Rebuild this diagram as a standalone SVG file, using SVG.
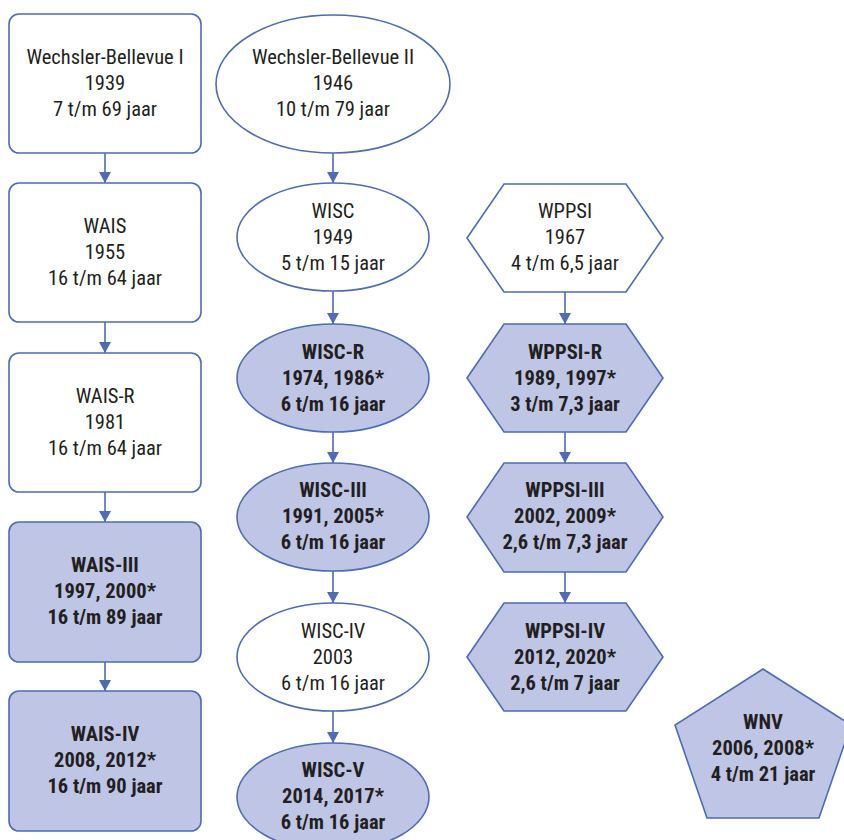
<svg xmlns="http://www.w3.org/2000/svg" width="844" height="840" viewBox="0 0 844 840">
<defs>
<style>
.s{stroke:#4d6bb7;stroke-width:1.6;fill:#fff}
.f{fill:#bfc5e4}
text{font-family:"Liberation Sans Narrow","Roboto Condensed","DejaVu Sans Condensed",Roboto,sans-serif;font-size:20.5px;fill:#231f20;text-anchor:middle}
.b text{font-weight:bold}
.c line{stroke:#4d6bb7;stroke-width:1.6}
</style>
<marker id="ah" viewBox="0 0 11 12" refX="11" refY="6" markerWidth="11" markerHeight="12" markerUnits="userSpaceOnUse" orient="auto">
<path d="M0,0 L11,6 L0,12 Z" fill="#4d6bb7"/>
</marker>
</defs>
<rect width="844" height="840" fill="#fff"/>
<g class="c">
<line x1="105" y1="153" x2="105" y2="183" marker-end="url(#ah)"/>
<line x1="105" y1="322" x2="105" y2="353" marker-end="url(#ah)"/>
<line x1="105" y1="492" x2="105" y2="522" marker-end="url(#ah)"/>
<line x1="105" y1="662" x2="105" y2="691" marker-end="url(#ah)"/>
<line x1="333" y1="153" x2="333" y2="183" marker-end="url(#ah)"/>
<line x1="333" y1="291" x2="333" y2="324" marker-end="url(#ah)"/>
<line x1="333" y1="432" x2="333" y2="463" marker-end="url(#ah)"/>
<line x1="333" y1="571" x2="333" y2="603" marker-end="url(#ah)"/>
<line x1="333" y1="711" x2="333" y2="743" marker-end="url(#ah)"/>
<line x1="565" y1="292" x2="565" y2="324" marker-end="url(#ah)"/>
<line x1="565" y1="432" x2="565" y2="463" marker-end="url(#ah)"/>
<line x1="565" y1="572" x2="565" y2="603" marker-end="url(#ah)"/>
</g>
<g id="wb1"><rect class="s" x="9" y="14" width="192" height="139" rx="10"/>
<text x="105" y="64">Wechsler-Bellevue I</text><text x="105" y="90">1939</text><text x="105" y="116">7 t/m 69 jaar</text></g>
<g id="wais"><rect class="s" x="9" y="183" width="192" height="139" rx="10"/>
<text x="105" y="233">WAIS</text><text x="105" y="259">1955</text><text x="105" y="285">16 t/m 64 jaar</text></g>
<g id="waisr"><rect class="s" x="9" y="353" width="192" height="139" rx="10"/>
<text x="105" y="403">WAIS-R</text><text x="105" y="429">1981</text><text x="105" y="455">16 t/m 64 jaar</text></g>
<g id="wais3" class="b"><rect class="s f" x="9" y="522" width="192" height="140" rx="10"/>
<text x="105" y="572">WAIS-III</text><text x="105" y="598">1997, 2000*</text><text x="105" y="624">16 t/m 89 jaar</text></g>
<g id="wais4" class="b"><rect class="s f" x="9" y="691" width="192" height="140" rx="10"/>
<text x="105" y="741">WAIS-IV</text><text x="105" y="767">2008, 2012*</text><text x="105" y="793">16 t/m 90 jaar</text></g>
<g id="wb2"><ellipse class="s" cx="333" cy="84" rx="117" ry="69"/>
<text x="333" y="64">Wechsler-Bellevue II</text><text x="333" y="90">1946</text><text x="333" y="116">10 t/m 79 jaar</text></g>
<g id="wisc"><ellipse class="s" cx="333" cy="237" rx="96" ry="54"/>
<text x="333" y="218">WISC</text><text x="333" y="244">1949</text><text x="333" y="270">5 t/m 15 jaar</text></g>
<g id="wiscr" class="b"><ellipse class="s f" cx="333" cy="378" rx="96" ry="54"/>
<text x="333" y="359">WISC-R</text><text x="333" y="385">1974, 1986*</text><text x="333" y="411">6 t/m 16 jaar</text></g>
<g id="wisc3" class="b"><ellipse class="s f" cx="333" cy="517" rx="96" ry="54"/>
<text x="333" y="497">WISC-III</text><text x="333" y="523">1991, 2005*</text><text x="333" y="549">6 t/m 16 jaar</text></g>
<g id="wisc4"><ellipse class="s" cx="333" cy="657" rx="96" ry="54"/>
<text x="333" y="638">WISC-IV</text><text x="333" y="664">2003</text><text x="333" y="690">6 t/m 16 jaar</text></g>
<g id="wisc5" class="b"><ellipse class="s f" cx="333" cy="797" rx="96" ry="54"/>
<text x="333" y="777">WISC-V</text><text x="333" y="803">2014, 2017*</text><text x="333" y="829">6 t/m 16 jaar</text></g>
<g id="wppsi"><polygon class="s" points="467,238 504,184 626,184 663,238 626,292 504,292"/>
<text x="565" y="218">WPPSI</text><text x="565" y="244">1967</text><text x="565" y="270">4 t/m 6,5 jaar</text></g>
<g id="wppsir" class="b"><polygon class="s f" points="467,378 504,324 626,324 663,378 626,432 504,432"/>
<text x="565" y="359">WPPSI-R</text><text x="565" y="385">1989, 1997*</text><text x="565" y="411">3 t/m 7,3 jaar</text></g>
<g id="wppsi3" class="b"><polygon class="s f" points="467,517 504,463 626,463 663,517 626,572 504,572"/>
<text x="565" y="497">WPPSI-III</text><text x="565" y="523">2002, 2009*</text><text x="565" y="549">2,6 t/m 7,3 jaar</text></g>
<g id="wppsi4" class="b"><polygon class="s f" points="467,657 504,603 626,603 663,657 626,711 504,711"/>
<text x="565" y="638">WPPSI-IV</text><text x="565" y="664">2012, 2020*</text><text x="565" y="690">2,6 t/m 7 jaar</text></g>
<g id="wnv" class="b"><polygon class="s f" points="763,669 851,725 819,818 707,818 675,725"/>
<text x="763" y="729">WNV</text><text x="763" y="755">2006, 2008*</text><text x="763" y="781">4 t/m 21 jaar</text></g>
</svg>
